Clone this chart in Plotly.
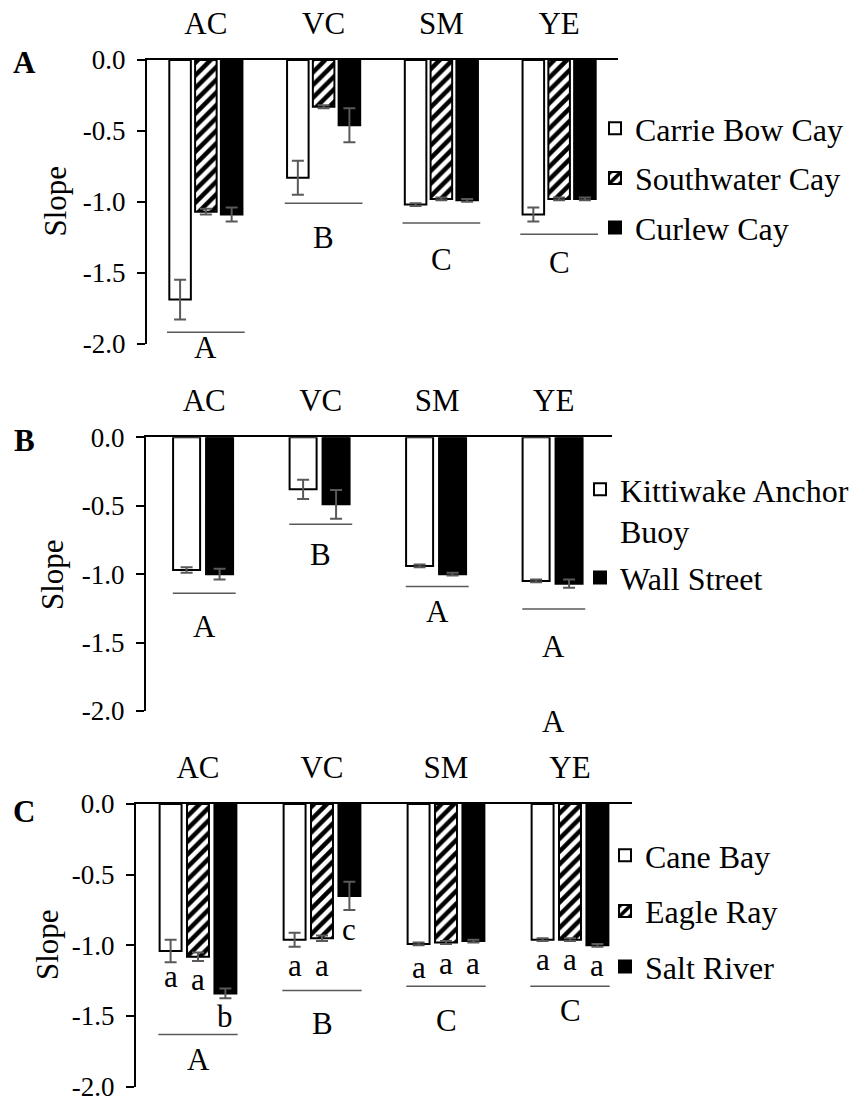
import plotly.graph_objects as go

W, H = 854, 1099
FONT = "Liberation Serif, Times New Roman, serif"

categories = ["AC", "VC", "SM", "YE"]
ytick_vals = [0, -0.5, -1.0, -1.5, -2.0]
ytick_text = ["0.0", "-0.5", "-1.0", "-1.5", "-2.0"]

# ---------------- Panel A ----------------
a_sites = ["Carrie Bow Cay", "Southwater Cay", "Curlew Cay"]
a_carrie = [-1.69, -0.83, -1.02, -1.09]
a_carrie_err = [0.14, 0.12, 0.01, 0.05]
a_southwater = [-1.07, -0.33, -0.98, -0.98]
a_southwater_err = [0.02, 0.01, 0.01, 0.01]
a_curlew = [-1.09, -0.46, -0.99, -0.98]
a_curlew_err = [0.05, 0.12, 0.01, 0.01]
a_group_letters = ["A", "B", "C", "C"]
a_line_y = [-1.92, -1.01, -1.15, -1.23]
a_letter_y = [-2.03, -1.25, -1.41, -1.43]

# ---------------- Panel B ----------------
b_sites = ["Kittiwake Anchor<br>Buoy", "Wall Street"]
b_kittiwake = [-0.97, -0.38, -0.94, -1.05]
b_kittiwake_err = [0.02, 0.07, 0.01, 0.01]
b_wall = [-1.00, -0.49, -1.00, -1.07]
b_wall_err = [0.04, 0.105, 0.01, 0.03]
b_group_letters = ["A", "B", "A", "A"]
b_line_y = [-1.14, -0.635, -1.09, -1.255]
b_letter_y = [-1.385, -0.86, -1.27, -1.53]
b_extra_letter = "A"
b_extra_letter_cat = "YE"
b_extra_letter_y = -2.08

# ---------------- Panel C ----------------
c_sites = ["Cane Bay", "Eagle Ray", "Salt River"]
c_cane = [-1.04, -0.96, -0.99, -0.96]
c_cane_err = [0.08, 0.05, 0.01, 0.01]
c_eagle = [-1.08, -0.95, -0.98, -0.96]
c_eagle_err = [0.03, 0.02, 0.01, 0.01]
c_salt = [-1.34, -0.65, -0.97, -1.00]
c_salt_err = [0.035, 0.10, 0.01, 0.01]
c_cane_letters = ["a", "a", "a", "a"]
c_eagle_letters = ["a", "a", "a", "a"]
c_salt_letters = ["b", "c", "a", "a"]
c_cane_letter_y = [-1.22, -1.14, -1.155, -1.097]
c_eagle_letter_y = [-1.245, -1.14, -1.125, -1.097]
c_salt_letter_y = [-1.505, -0.887, -1.125, -1.14]
c_group_letters = ["A", "B", "C", "C"]
c_line_y = [-1.63, -1.32, -1.29, -1.29]
c_letter_y = [-1.81, -1.55, -1.53, -1.46]

Y_MIN, Y_MAX = -2.0, 0.0


def px_x(p):
    return p / W


def px_y(p):
    return 1 - p / H


def to_domain(v):
    # value on the y scale -> fraction of the axis domain (allows text below the range)
    return (v - Y_MIN) / (Y_MAX - Y_MIN)


ERR_COLOR = "#595959"
TXT = 31
STYLE_WHITE = dict(color="white", line=dict(color="black", width=2))
STYLE_HATCH = dict(color="white", line=dict(color="black", width=2),
                   pattern=dict(shape="/", fgcolor="black", bgcolor="white",
                                size=9, solidity=0.5, fillmode="replace"))
STYLE_BLACK = dict(color="black", line=dict(color="black", width=2))

fig = go.Figure()

panels = [
    dict(ax="", legend="legend", sites=a_sites,
         vals=[a_carrie, a_southwater, a_curlew],
         errs=[a_carrie_err, a_southwater_err, a_curlew_err],
         styles=[STYLE_WHITE, STYLE_HATCH, STYLE_BLACK],
         width=0.183, pitch=0.219, shift=0.0,
         glet=a_group_letters, gline=a_line_y, gly=a_letter_y, half=0.33,
         dom_x=(147, 618), dom_y=(60, 343.5)),
    dict(ax="2", legend="legend2", sites=b_sites,
         vals=[b_kittiwake, b_wall],
         errs=[b_kittiwake_err, b_wall_err],
         styles=[STYLE_WHITE, STYLE_BLACK],
         width=0.232, pitch=0.283, shift=-0.01,
         glet=b_group_letters, gline=b_line_y, gly=b_letter_y, half=0.27,
         dom_x=(146, 612), dom_y=(437.3, 711)),
    dict(ax="3", legend="legend3", sites=c_sites,
         vals=[c_cane, c_eagle, c_salt],
         errs=[c_cane_err, c_eagle_err, c_salt_err],
         styles=[STYLE_WHITE, STYLE_HATCH, STYLE_BLACK],
         width=0.177, pitch=0.221, shift=0.0,
         glet=c_group_letters, gline=c_line_y, gly=c_letter_y, half=0.32,
         dom_x=(136, 632), dom_y=(804, 1086.7)),
]

shapes = []
annotations = []

for p in panels:
    n = len(p["vals"])
    xa = "x" + p["ax"]
    ya = "y" + p["ax"]
    for i in range(n):
        off = (i - (n - 1) / 2) * p["pitch"] - p["width"] / 2 + p["shift"]
        fig.add_trace(go.Bar(
            x=categories, y=p["vals"][i], name=p["sites"][i],
            xaxis=xa, yaxis=ya, legend=p["legend"], legendgroup=p["legend"] + str(i),
            width=p["width"], offset=off,
            marker=p["styles"][i],
            error_y=dict(type="data", array=p["errs"][i], visible=True,
                         color=ERR_COLOR, thickness=2, width=6),
        ))
    for k, cat in enumerate(categories):
        shapes.append(dict(type="line", xref=xa, yref=ya,
                           x0=k - p["half"], x1=k + p["half"],
                           y0=p["gline"][k], y1=p["gline"][k],
                           line=dict(color=ERR_COLOR, width=1.5)))
        annotations.append(dict(xref=xa, yref=ya + " domain", x=k,
                                y=to_domain(p["gly"][k]),
                                text=p["glet"][k], showarrow=False,
                                font=dict(family=FONT, size=TXT, color="black"),
                                xanchor="center", yanchor="middle"))

# panel B extra letter
annotations.append(dict(xref="x2", yref="y2 domain", x=categories.index(b_extra_letter_cat),
                        y=to_domain(b_extra_letter_y), text=b_extra_letter, showarrow=False,
                        font=dict(family=FONT, size=TXT, color="black"),
                        xanchor="center", yanchor="middle"))

# panel C per-bar letters
c_pitch = panels[2]["pitch"]
for i, (lets, ly) in enumerate([(c_cane_letters, c_cane_letter_y),
                                (c_eagle_letters, c_eagle_letter_y),
                                (c_salt_letters, c_salt_letter_y)]):
    for k in range(len(categories)):
        annotations.append(dict(xref="x3", yref="y3 domain", x=k + (i - 1) * c_pitch,
                                y=to_domain(ly[k]), text=lets[k], showarrow=False,
                                font=dict(family=FONT, size=TXT, color="black"),
                                xanchor="center", yanchor="middle"))

# panel letters and y titles
for lab, (lx, ly) in zip(["A", "B", "C"], [(24, 62), (24, 440), (24, 812)]):
    annotations.append(dict(xref="paper", yref="paper", x=px_x(lx), y=px_y(ly),
                            text="<b>" + lab + "</b>", showarrow=False,
                            font=dict(family=FONT, size=TXT, color="black"),
                            xanchor="center", yanchor="middle"))
for (sx, sy) in [(55, 201.5), (53, 575), (47, 945)]:
    annotations.append(dict(xref="paper", yref="paper", x=px_x(sx), y=px_y(sy),
                            text="Slope", textangle=-90, showarrow=False,
                            font=dict(family=FONT, size=TXT, color="black"),
                            xanchor="center", yanchor="middle"))

layout = dict(
    width=W, height=H,
    margin=dict(l=0, r=0, t=0, b=0),
    paper_bgcolor="white", plot_bgcolor="white",
    barmode="overlay",
    showlegend=True,
    shapes=shapes, annotations=annotations,
    font=dict(family=FONT, color="black"),
)

for p in panels:
    sfx = p["ax"]
    layout["xaxis" + sfx] = dict(
        domain=[px_x(p["dom_x"][0]), px_x(p["dom_x"][1])],
        anchor="y" + sfx, side="top", type="category",
        categoryorder="array", categoryarray=categories,
        range=[-0.5, 3.5], showline=True, linecolor="black", linewidth=2,
        ticks="", showgrid=False, zeroline=False,
        tickfont=dict(family=FONT, size=TXT, color="black"),
        ticklabelstandoff=12, automargin=False, fixedrange=True,
    )
    layout["yaxis" + sfx] = dict(
        domain=[px_y(p["dom_y"][1]), px_y(p["dom_y"][0])],
        anchor="x" + sfx, range=[Y_MIN, Y_MAX],
        tickmode="array", tickvals=ytick_vals, ticktext=ytick_text,
        ticks="outside", ticklen=8, tickwidth=2, tickcolor="black",
        showline=True, linecolor="black", linewidth=2,
        showgrid=False, zeroline=False,
        tickfont=dict(family=FONT, size=27, color="black"),
        ticklabelstandoff=6, ticklabeloverflow="allow",
        automargin=False, fixedrange=True,
    )

legend_common = dict(xanchor="left", yanchor="top", bgcolor="rgba(0,0,0,0)",
                     font=dict(family=FONT, size=32, color="black"),
                     traceorder="grouped", valign="top", itemclick=False)
layout["legend"] = dict(legend_common, x=px_x(595), y=px_y(101), tracegroupgap=5)
layout["legend2"] = dict(legend_common, x=px_x(580), y=px_y(462), tracegroupgap=2)
layout["legend3"] = dict(legend_common, x=px_x(605), y=px_y(828), tracegroupgap=11)

fig.update_layout(**layout)
fig.write_html("out.html")
